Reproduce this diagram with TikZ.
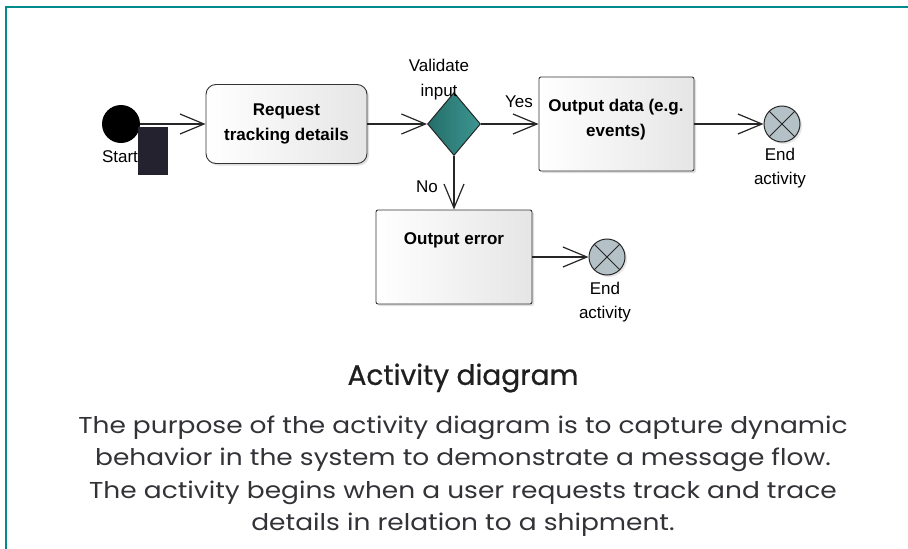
\documentclass[tikz,border=0pt]{standalone}
\usepackage{fontspec}
\setmainfont{Liberation Sans}
\newfontfamily\bodyfont[FakeStretch=1.15]{Poppins}
\newfontfamily\titlefont[FakeBold=0.8]{Poppins}
\usetikzlibrary{arrows.meta,shapes.geometric,shadows}
\definecolor{framecol}{RGB}{0,140,140}
\definecolor{darkbox}{RGB}{35,34,46}
\definecolor{endfill}{RGB}{180,194,200}
\definecolor{dialeft}{RGB}{36,110,106}
\definecolor{diaright}{RGB}{62,150,146}
\definecolor{txtcol}{RGB}{50,50,55}
\tikzset{
  lbl/.style={font=\fontsize{17}{24}\selectfont, align=center, text=black},
  actbox/.style={draw=black!80, line width=0.9pt, left color=white, right color=black!10,
    drop shadow={shadow xshift=2pt, shadow yshift=-2pt, opacity=0.25},
    font=\bfseries\fontsize{17}{25}\selectfont, align=center, inner sep=0pt},
  flow/.style={draw=black!85, line width=1.2pt, -{Straight Barb[length=24pt,width=20pt,line width=1.2pt]}},
  endnode/.style={circle, draw=black!85, line width=1pt, fill=endfill, minimum size=36pt, inner sep=0pt,
    drop shadow={shadow xshift=2pt, shadow yshift=-2pt, opacity=0.2},
    path picture={\draw[black!85, line width=1pt] (path picture bounding box.north west) -- (path picture bounding box.south east)
      (path picture bounding box.north east) -- (path picture bounding box.south west);}},
  bodytxt/.style={font=\bodyfont\fontsize{23}{32.5}\selectfont, align=center, text=txtcol}
}
\begin{document}
\begin{tikzpicture}[x=1pt,y=-1pt]
\useasboundingbox (0,0) rectangle (908,549);
\draw[framecol, line width=2.5pt] (6,549) -- (6,7) -- (908,7);

% start
\node[circle, fill=black, minimum size=38pt, inner sep=0pt] (start) at (121,124) {};
\node[lbl] (startlbl) at (120,157) {Start};
\node[fill=darkbox, minimum width=30pt, minimum height=48pt, inner sep=0pt] (blk) at (153,151) {};

% request
\node[actbox, rounded corners=10pt, minimum width=161pt, minimum height=79pt] (req) at (286.5,124) {Request\\tracking details};

% decision
\node[diamond, draw=black!85, line width=1pt, left color=dialeft, right color=diaright,
  minimum width=53pt, minimum height=63pt, inner sep=0pt] (dia) at (454,124) {};
\node[lbl, font=\fontsize{17}{25}\selectfont] (dialbl) at (439,79.5) {Validate\\input};

% output data
\node[actbox, rounded corners=2pt, minimum width=155pt, minimum height=94pt] (outd) at (616.5,124) {};
\node[font=\bfseries\fontsize{17}{25}\selectfont, align=center] (outdtxt) at (616,119.5) {Output data (e.g.\\events)};

% output error
\node[actbox, rounded corners=2pt, minimum width=156pt, minimum height=94pt] (oute) at (454,257) {};
\node[font=\bfseries\fontsize{17}{25}\selectfont] (outetxt) at (454,240) {Output error};

% ends
\node[endnode] (end1) at (782,124) {};
\node[lbl] (end1lbl) at (780,168) {End\\activity};
\node[endnode] (end2) at (607,257) {};
\node[lbl] (end2lbl) at (605,302) {End\\activity};

% flows
\draw[flow] (start) -- (req);
\draw[flow] (req) -- (dia);
\draw[flow] (dia) -- (outd);
\draw[flow] (outd) -- (end1);
\draw[flow] (dia) -- (oute);
\draw[flow] (oute) -- (end2);
\node[lbl] (yes) at (519,102) {Yes};
\node[lbl] (no) at (427,187) {No};

% caption
\node[font=\titlefont\fontsize{28}{32}\selectfont, text=black!88] (title) at (463,378) {Activity diagram};
\node[bodytxt] (body) at (463,476) {The purpose of the activity diagram is to capture dynamic\\
behavior in the system to demonstrate a message flow.\\
The activity begins when a user requests track and trace\\
details in relation to a shipment.};
\end{tikzpicture}
\end{document}
